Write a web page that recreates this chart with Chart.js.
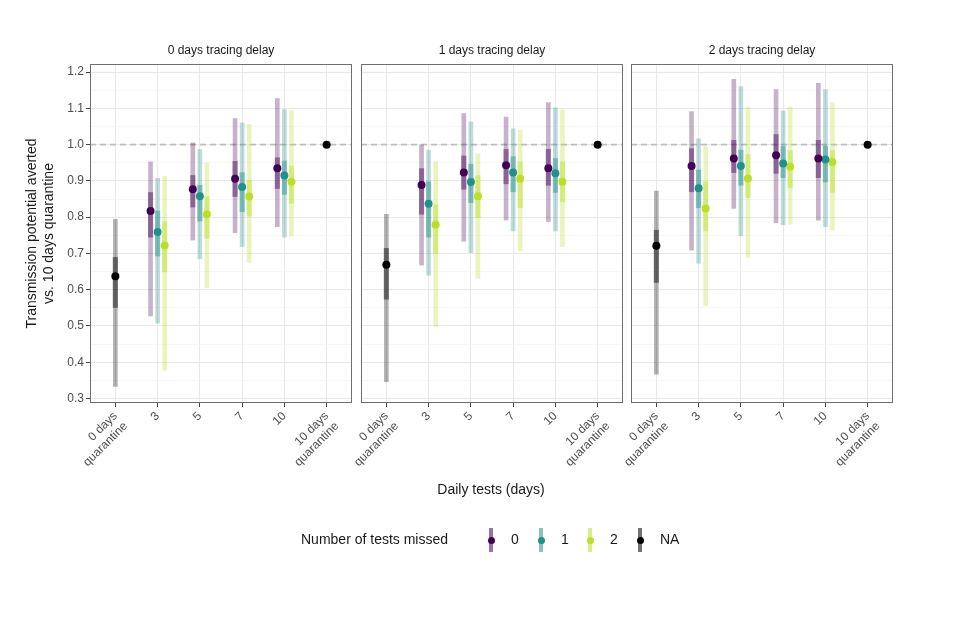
<!DOCTYPE html>
<html>
<head>
<meta charset="utf-8">
<script src="https://cdn.jsdelivr.net/npm/chart.js@4.4.1/dist/chart.umd.min.js"></script>
<style>
  body { margin: 0; background: #fff; font-family: "Liberation Sans", Arial, sans-serif; }
  #wrap { position: relative; width: 960px; height: 640px; overflow: hidden; }
  #wrap canvas { position: absolute; left: 0; top: 0; }
  .strip { position: absolute; top: 43px; font-size: 12px; color: #1a1a1a; transform: translateX(-50%); white-space: nowrap; }
  .xtitle { position: absolute; top: 481px; left: 491px; font-size: 14px; color: #1a1a1a; transform: translateX(-50%); white-space: nowrap; }
  .leg { position: absolute; font-size: 14px; color: #1a1a1a; white-space: nowrap; }
  .key { position: absolute; top: 528px; width: 4px; height: 24px; margin-left: -2px; }
  .dot { position: absolute; top: 537px; width: 7px; height: 7px; margin-left: -3.5px; border-radius: 50%; }
</style>
</head>
<body>
<div id="wrap">
  <canvas id="p0" width="960" height="640"></canvas>
  <canvas id="p1" width="960" height="640"></canvas>
  <canvas id="p2" width="960" height="640"></canvas>
  <div class="strip" style="left:221px">0 days tracing delay</div>
  <div class="strip" style="left:492px">1 days tracing delay</div>
  <div class="strip" style="left:762px">2 days tracing delay</div>
  <div class="xtitle">Daily tests (days)</div>
  <div class="leg" style="left:301px; top:531px">Number of tests missed</div>
  <div id="legendKeys"></div>
</div>
<script>
// x categories and their tick labels
const CATEGORIES = ['0 days quarantine', '3', '5', '7', '10', '10 days quarantine'];
const TICK_LABELS = [['0 days', 'quarantine'], '3', '5', '7', '10', ['10 days', 'quarantine']];
const TEST_CATS = [1, 2, 3, 4]; // index of 3, 5, 7, 10 daily tests
const Y_TICKS = [0.3, 0.4, 0.5, 0.6, 0.7, 0.8, 0.9, 1.0, 1.1, 1.2];
const MISSED = ['0', '1', '2'];
const REF_LINE = 1.0;

// 0 days tracing delay, rows = tests missed 0 / 1 / 2
const mean_d0 = [[0.817, 0.877, 0.906, 0.935], [0.759, 0.858, 0.883, 0.915], [0.722, 0.808, 0.857, 0.898]];
const lo95_d0 = [[0.528, 0.737, 0.757, 0.774], [0.508, 0.686, 0.719, 0.745], [0.378, 0.605, 0.675, 0.748]];
const hi95_d0 = [[0.953, 1.005, 1.072, 1.127], [0.907, 0.987, 1.060, 1.097], [0.913, 0.950, 1.056, 1.093]];
const lo50_d0 = [[0.745, 0.828, 0.857, 0.879], [0.693, 0.789, 0.815, 0.863], [0.649, 0.742, 0.803, 0.838]];
const hi50_d0 = [[0.868, 0.915, 0.954, 0.964], [0.817, 0.888, 0.923, 0.955], [0.788, 0.857, 0.902, 0.941]];

// 1 days tracing delay
const mean_d1 = [[0.889, 0.923, 0.943, 0.935], [0.837, 0.897, 0.923, 0.921], [0.779, 0.858, 0.906, 0.898]];
const lo95_d1 = [[0.668, 0.734, 0.792, 0.788], [0.640, 0.702, 0.762, 0.762], [0.498, 0.631, 0.707, 0.719]];
const hi95_d1 = [[0.999, 1.086, 1.076, 1.116], [0.985, 1.063, 1.044, 1.102], [0.953, 0.975, 1.040, 1.096]];
const lo50_d1 = [[0.808, 0.877, 0.892, 0.888], [0.745, 0.840, 0.870, 0.868], [0.700, 0.799, 0.826, 0.842]];
const hi50_d1 = [[0.934, 0.969, 0.987, 0.987], [0.898, 0.946, 0.967, 0.962], [0.834, 0.915, 0.953, 0.953]];

// 2 days tracing delay
const mean_d2 = [[0.941, 0.962, 0.971, 0.962], [0.880, 0.941, 0.948, 0.959], [0.824, 0.907, 0.939, 0.952]];
const lo95_d2 = [[0.709, 0.824, 0.785, 0.792], [0.673, 0.748, 0.779, 0.774], [0.555, 0.689, 0.780, 0.765]];
const hi95_d2 = [[1.091, 1.180, 1.152, 1.169], [1.016, 1.160, 1.093, 1.152], [0.995, 1.104, 1.104, 1.116]];
const lo50_d2 = [[0.870, 0.923, 0.921, 0.909], [0.826, 0.888, 0.909, 0.897], [0.762, 0.854, 0.881, 0.868]];
const hi50_d2 = [[0.989, 1.012, 1.028, 1.012], [0.930, 0.985, 0.995, 0.996], [0.898, 0.973, 0.984, 0.984]];

// NA (0 days quarantine), one value per delay
const naMean = [0.637, 0.669, 0.721];
const naLo95 = [0.333, 0.346, 0.367];
const naHi95 = [0.794, 0.808, 0.872];
const naLo50 = [0.551, 0.574, 0.620];
const naHi50 = [0.689, 0.714, 0.764];
// 10 days quarantine is the reference
const quar10 = [1.0, 1.0, 1.0];

const PANELS = [
  { mean: mean_d0, lo95: lo95_d0, hi95: hi95_d0, lo50: lo50_d0, hi50: hi50_d0 },
  { mean: mean_d1, lo95: lo95_d1, hi95: hi95_d1, lo50: lo50_d1, hi50: hi50_d1 },
  { mean: mean_d2, lo95: lo95_d2, hi95: hi95_d2, lo50: lo50_d2, hi50: hi50_d2 },
];

const GROUP_RGB = ['68,1,84', '33,144,140', '187,223,39'];
const NA_RGB = '0,0,0';
const X_MIN = -0.6, X_MAX = 5.6;
const Y_MIN = 0.2875, Y_MAX = 1.2225;
const DODGE = 0.167;

Chart.defaults.font.family = '"Liberation Sans", Arial, sans-serif';

const rgba = (rgb, a) => `rgba(${rgb},${a})`;
const isMajor = v => Y_TICKS.some(t => Math.abs(t - v) < 1e-6);

const panelBox = {
  id: 'panelBox',
  afterDraw(chart) {
    const { ctx, chartArea: a } = chart;
    ctx.save();
    ctx.strokeStyle = '#6e6e6e';
    ctx.lineWidth = 1;
    ctx.strokeRect(Math.round(a.left) + 0.5, Math.round(a.top) + 0.5, Math.round(a.width) - 1, Math.round(a.height) - 1);
    ctx.restore();
  }
};

function interval(xs, lo, hi, rgb, alpha, width, order) {
  return {
    type: 'bar', grouped: false, barThickness: width, order: order,
    data: xs.map((x, i) => ({ x: x, y: [lo[i], hi[i]] })),
    backgroundColor: rgba(rgb, alpha), borderWidth: 0
  };
}

function points(xs, ys, rgb) {
  return {
    type: 'scatter', order: 1,
    data: xs.map((x, i) => ({ x: x, y: ys[i] })),
    pointRadius: 4, pointHoverRadius: 4, backgroundColor: rgba(rgb, 1), borderWidth: 0
  };
}

function buildDatasets(p) {
  const d = PANELS[p];
  const ds = [{
    type: 'line', order: 5,
    data: [{ x: X_MIN, y: REF_LINE }, { x: X_MAX, y: REF_LINE }],
    borderColor: '#bdbdbd', borderWidth: 1.6, borderDash: [6, 4], pointRadius: 0
  }];
  MISSED.forEach((m, g) => {
    const xs = TEST_CATS.map(c => c + (g - 1) * DODGE);
    ds.push(interval(xs, d.lo95[g], d.hi95[g], GROUP_RGB[g], 0.3, 4, 3));
    ds.push(interval(xs, d.lo50[g], d.hi50[g], GROUP_RGB[g], 0.45, 4.5, 2));
    ds.push(points(xs, d.mean[g], GROUP_RGB[g]));
  });
  ds.push(interval([0], [naLo95[p]], [naHi95[p]], NA_RGB, 0.3, 4, 3));
  ds.push(interval([0], [naLo50[p]], [naHi50[p]], NA_RGB, 0.45, 4.5, 2));
  ds.push(points([0, 5], [naMean[p], quar10[p]], NA_RGB));
  return ds;
}

function makePanel(id, p, left, right) {
  const first = p === 0;
  new Chart(document.getElementById(id), {
    type: 'bar',
    data: { datasets: buildDatasets(p) },
    plugins: [panelBox],
    options: {
      responsive: false,
      animation: false,
      layout: { padding: { left: first ? 20 : left, right: 960 - right, top: 64, bottom: 150 } },
      plugins: { legend: { display: false }, tooltip: { enabled: false } },
      scales: {
        x: {
          type: 'linear', min: X_MIN, max: X_MAX, offset: false,
          afterBuildTicks: s => { s.ticks = CATEGORIES.map((c, i) => ({ value: i })); },
          afterFit: s => { s.height = 87; },
          ticks: {
            autoSkip: false, minRotation: 45, maxRotation: 45, padding: 2,
            color: '#4d4d4d', font: { size: 12 },
            callback: (v, i) => TICK_LABELS[i]
          },
          grid: { offset: false, color: '#e8e8e8', lineWidth: 1, tickLength: 4, tickColor: '#444' },
          border: { display: false }
        },
        y: {
          type: 'linear', min: Y_MIN, max: Y_MAX,
          afterBuildTicks: s => {
            const vals = [];
            Y_TICKS.forEach((t, i) => {
              vals.push(t);
              if (i < Y_TICKS.length - 1) vals.push((t + Y_TICKS[i + 1]) / 2);
            });
            s.ticks = vals.map(v => ({ value: v }));
          },
          afterFit: s => { s.width = first ? 70 : 0; },
          ticks: {
            display: first, padding: 2, color: '#4d4d4d', font: { size: 12 },
            callback: v => isMajor(v) ? v.toFixed(1) : ''
          },
          grid: {
            drawTicks: first, tickLength: 4,
            color: c => isMajor(c.tick.value) ? '#e8e8e8' : '#f3f3f3',
            lineWidth: c => isMajor(c.tick.value) ? 1 : 0.7,
            tickColor: c => isMajor(c.tick.value) ? '#444' : 'rgba(0,0,0,0)'
          },
          border: { display: false },
          title: {
            display: first,
            text: ['Transmission potential averted', 'vs. 10 days quarantine'],
            color: '#1a1a1a', font: { size: 14 }, padding: { top: 4, bottom: 0 }
          }
        }
      }
    }
  });
}

makePanel('p0', 0, 90, 352);
makePanel('p1', 1, 361, 623);
makePanel('p2', 2, 631, 893);

// legend keys
const keys = document.getElementById('legendKeys');
const legendItems = MISSED.map((m, g) => ({ label: m, rgb: GROUP_RGB[g] })).concat([{ label: 'NA', rgb: NA_RGB }]);
const keyX = [491, 541, 590, 640];
legendItems.forEach((it, i) => {
  keys.insertAdjacentHTML('beforeend',
    `<div class="key" style="left:${keyX[i]}px;background:${rgba(it.rgb, 0.55)}"></div>` +
    `<div class="dot" style="left:${keyX[i]}px;background:${rgba(it.rgb, 1)}"></div>` +
    `<div class="leg" style="left:${keyX[i] + 20}px;top:531px">${it.label}</div>`);
});
</script>
</body>
</html>
